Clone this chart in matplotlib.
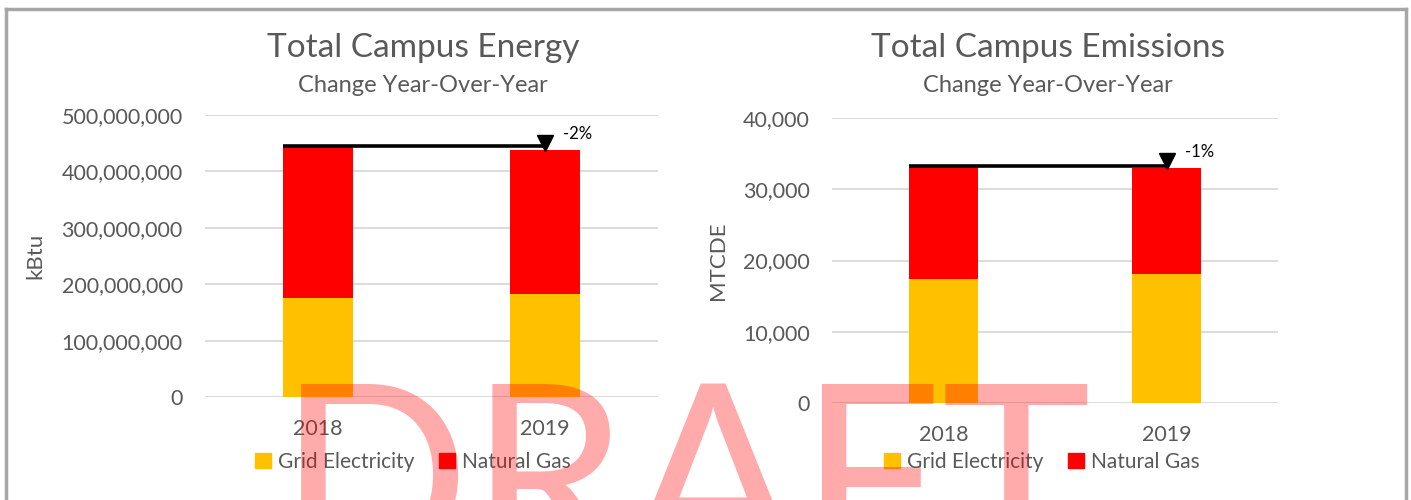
import matplotlib
matplotlib.use("Agg")
import matplotlib.pyplot as plt
import matplotlib.transforms as mtransforms
from matplotlib.patches import Patch
from matplotlib.ticker import FuncFormatter

plt.rcParams['font.family'] = ['Lato', 'DejaVu Sans']

# data
years = ['2018', '2019']
energy_elec = [174.7e6, 182.3e6]   # kBtu
energy_gas = [270.8e6, 255.0e6]
emis_elec = [17445, 18150]         # MTCDE
emis_gas = [15765, 14830]
energy_change = '-2%'
emis_change = '-1%'

ELEC = '#FFC000'
GAS = '#FF0000'
TXT = '#595959'
GRID = '#D9D9D9'

W, H = 1411, 500
fig = plt.figure(figsize=(W / 100, H / 100), dpi=100)


def px(x, y):
    return x / W, 1 - y / H


def draw_panel(rect, elec, gas, ymax, step, ylabel, title, change, title_x, legend_x):
    ax = fig.add_axes(rect)
    x = range(len(years))
    bw = 0.31
    ax.bar(x, elec, bw, color=ELEC, zorder=2)
    ax.bar(x, gas, bw, bottom=elec, color=GAS, zorder=2)
    totals = [e + g for e, g in zip(elec, gas)]

    # year-over-year marker: line at first total, triangle on second bar
    ax.plot([-bw / 2, 1], [totals[0], totals[0]], color='black', lw=2.6,
            solid_capstyle='butt', zorder=3)
    tri = mtransforms.offset_copy(ax.transData, fig=fig, x=0, y=7, units='dots')
    ax.plot([1], [totals[1]], marker='v', ms=12, color='black',
            transform=tri, zorder=4)
    lbl = mtransforms.offset_copy(ax.transData, fig=fig, x=18, y=16, units='dots')
    ax.text(1, totals[1], change, transform=lbl, fontsize=12, color='black',
            ha='left', va='center')

    ax.set_xlim(-0.5, 1.5)
    ax.set_ylim(0, ymax)
    ax.set_yticks(range(0, int(ymax) + 1, int(step)))
    ax.yaxis.set_major_formatter(FuncFormatter(lambda v, p: f'{int(v):,}'))
    ax.set_xticks(list(x))
    ax.set_xticklabels(years)
    ax.tick_params(length=0, labelsize=15.5, labelcolor=TXT)
    ax.tick_params(axis='y', pad=16)
    ax.tick_params(axis='x', pad=16)
    ax.grid(axis='y', color=GRID, lw=1.3, zorder=0)
    ax.set_axisbelow(True)
    for s in ax.spines.values():
        s.set_visible(False)
    ax.set_ylabel(ylabel, fontsize=16, color=TXT)

    tx, ty = px(title_x, 57)
    fig.text(tx, ty, title, ha='center', va='baseline', fontsize=24, color=TXT)
    tx, ty = px(title_x, 92)
    fig.text(tx, ty, 'Change Year-Over-Year', ha='center', va='baseline',
             fontsize=17, color=TXT)

    handles = [Patch(color=ELEC, label='Grid Electricity'),
               Patch(color=GAS, label='Natural Gas')]
    lx, ly = px(legend_x, 462)
    fig.legend(handles=handles, loc='center', bbox_to_anchor=(lx, ly),
               ncol=2, frameon=False, fontsize=15, labelcolor=TXT,
               handlelength=0.75, handleheight=0.75, handletextpad=0.35,
               columnspacing=1.2)
    return ax


ax1 = draw_panel([205 / W, 1 - 397 / H, 453 / W, 282 / H],
                 energy_elec, energy_gas, 500e6, 100e6, 'kBtu',
                 'Total Campus Energy', energy_change, 423, 413)
ax1.yaxis.set_label_coords(-0.353, 0.5)
ax2 = draw_panel([832 / W, 1 - 403 / H, 446 / W, 285 / H],
                 emis_elec, emis_gas, 40000, 10000, 'MTCDE',
                 'Total Campus Emissions', emis_change, 1048, 1042)
ax2.yaxis.set_label_coords(-0.233, 0.5)

# chart border (top, left, right)
border = dict(color='#A6A6A6', lw=2.5, transform=fig.transFigure)
fig.add_artist(plt.Line2D([6 / W, 1406 / W], [1 - 9 / H, 1 - 9 / H], **border))
fig.add_artist(plt.Line2D([6 / W, 6 / W], [0, 1 - 9 / H], **border))
fig.add_artist(plt.Line2D([1406 / W, 1406 / W], [0, 1 - 9 / H], **border))

# watermark
fig.text(278 / W, 1 - 565 / H, 'DRAFT', fontsize=182, color=GAS, alpha=0.33,
         ha='left', va='baseline', zorder=10)

fig.savefig('out.png', dpi=100)
